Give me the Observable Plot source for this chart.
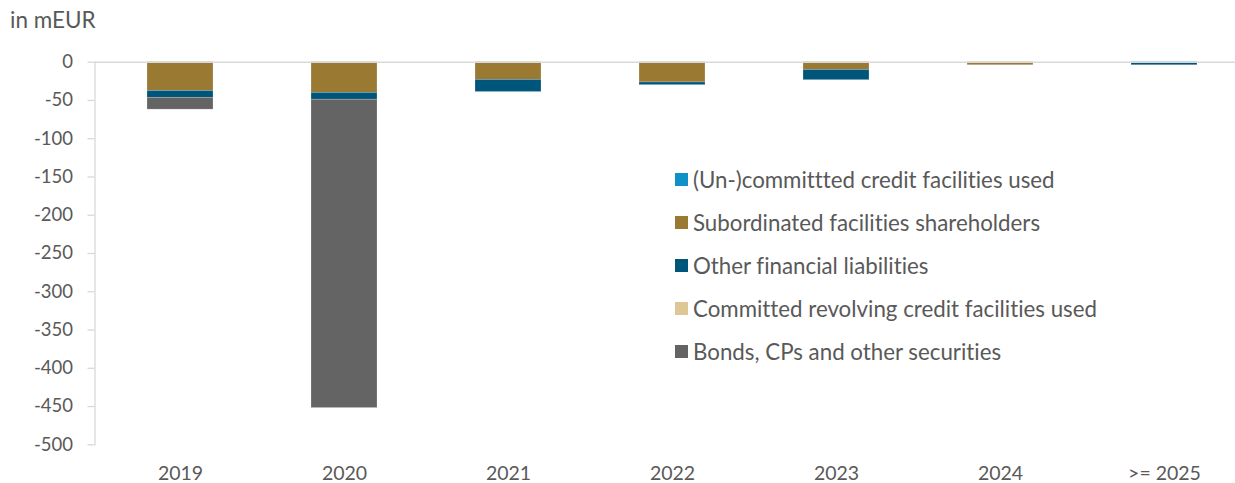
<!DOCTYPE html>
<html>
<head>
<meta charset="utf-8">
<script src="https://cdn.jsdelivr.net/npm/d3@7"></script>
<script src="https://cdn.jsdelivr.net/npm/@observablehq/plot@0.6"></script>
<style>
  html, body { margin: 0; padding: 0; background: #fff; }
  #wrap { position: relative; width: 1235px; height: 483px; overflow: hidden; font-family: Lato, "Open Sans", sans-serif; color: #595959; font-variant-ligatures: none; font-feature-settings: "liga" 0, "clig" 0; }
  #title { position: absolute; left: 10px; top: 6px; font-size: 22.5px; line-height: 28px; }
  #legend { position: absolute; left: 675px; top: 158.5px; font-size: 22.3px; }
  .item { display: flex; align-items: center; height: 42.8px; white-space: nowrap; }
  .sw { width: 13px; height: 13px; margin-right: 5px; flex: none; }
  svg text { font-variant-ligatures: none; }
</style>
</head>
<body>
<div id="wrap">
  <div id="chart"></div>
  <div id="title">in mEUR</div>
  <div id="legend"></div>
</div>
<script>
const categories = ["2019", "2020", "2021", "2022", "2023", "2024", ">= 2025"];
const seriesNames = [
  "(Un-)committted credit facilities used",
  "Subordinated facilities shareholders",
  "Other financial liabilities",
  "Committed revolving credit facilities used",
  "Bonds, CPs and other securities"
];
const seriesColors = ["#1090c8", "#9a7a33", "#00567a", "#dfc795", "#646464"];
const uncommitted  = [0, 0, 0, 0, 0, 0, 0];
const subordinated = [-37.5, -40, -23, -26.5, -10, -4, 0];
const otherFin     = [-9, -9, -16, -3.5, -13.5, 0, -4];
const committed    = [0, 0, 0, 0, 0, 0, 0];
const bonds        = [-15.5, -403, 0, 0, 0, 0, 0];
const yTicks = [0, -50, -100, -150, -200, -250, -300, -350, -400, -450, -500];

const seriesValues = [uncommitted, subordinated, otherFin, committed, bonds];
const rows = [];
seriesNames.forEach((s, si) => {
  categories.forEach((c, ci) => {
    rows.push({category: c, series: s, value: seriesValues[si][ci]});
  });
});

const chart = Plot.plot({
  width: 1235,
  height: 483,
  marginTop: 61.7,
  marginBottom: 38.7,
  marginLeft: 94.5,
  marginRight: 0,
  style: {fontFamily: "Lato, 'Open Sans', sans-serif", fontSize: "18px", color: "#595959", background: "#fff", overflow: "visible"},
  x: {domain: categories, range: [95.7, 1248.3], paddingInner: 0.6, paddingOuter: 0.3, label: null},
  y: {domain: [-500, 0], label: null},
  color: {domain: seriesNames, range: seriesColors},
  marks: [
    Plot.frame({anchor: "left", stroke: "#d9d9d9", strokeWidth: 1.3}),
    Plot.barY(rows, {x: "category", y: "value", fill: "series", order: seriesNames, stroke: "#ffffff", strokeOpacity: 0.35, strokeWidth: 0.6}),
    Plot.ruleY([0], {stroke: "#d9d9d9", strokeWidth: 1.6}),
    Plot.axisY({ticks: yTicks, tickSize: 7, tickPadding: 15, stroke: "#d9d9d9", strokeWidth: 1.3, fill: "#595959", fontSize: 18.5, tickFormat: d => String(d).replace("−", "-")}),
    Plot.axisX({tickSize: 0, tickPadding: 21, fill: "#595959", fontSize: 19.5})
  ]
});
document.getElementById("chart").appendChild(chart);

const legend = document.getElementById("legend");
seriesNames.forEach((s, i) => {
  const item = document.createElement("div");
  item.className = "item";
  const sw = document.createElement("span");
  sw.className = "sw";
  sw.style.background = seriesColors[i];
  const t = document.createElement("span");
  t.textContent = s;
  item.appendChild(sw);
  item.appendChild(t);
  legend.appendChild(item);
});
</script>
</body>
</html>
